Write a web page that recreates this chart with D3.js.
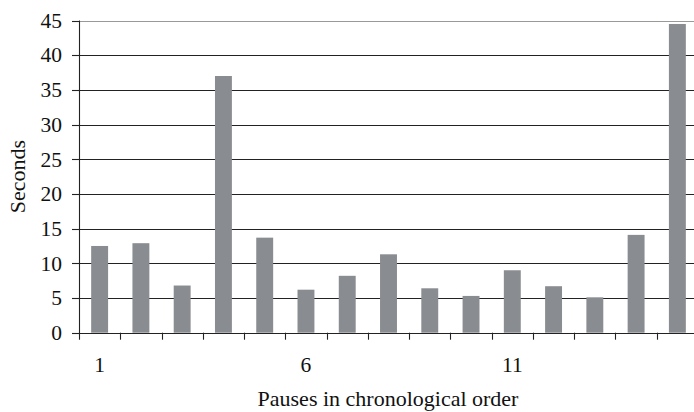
<!DOCTYPE html>
<html>
<head>
<meta charset="utf-8">
<script src="https://cdn.jsdelivr.net/npm/d3@7"></script>
<style>
  body { margin: 0; background: #fff; }
  text { font-family: "Liberation Serif", "Times New Roman", serif; fill: #111; }
</style>
</head>
<body>
<svg id="chart" width="694" height="412"></svg>
<script>
// Pause lengths, one per pause (seconds)
const pauses = [1, 2, 3, 4, 5, 6, 7, 8, 9, 10, 11, 12, 13, 14, 15];
const seconds = [12.5, 12.9, 6.8, 37.0, 13.7, 6.2, 8.2, 11.3, 6.4, 5.3, 9.0, 6.7, 5.1, 14.1, 44.5];
const yTicks = [0, 5, 10, 15, 20, 25, 30, 35, 40, 45];
const xLabels = [1, 6, 11];

const svg = d3.select("#chart");
const m = {left: 79, top: 20.5, right: 698, bottom: 332.7};

const x = d3.scaleBand().domain(pauses).range([m.left, m.right]).paddingInner(0.59).paddingOuter(0.295);
const y = d3.scaleLinear().domain([0, 45]).range([m.bottom, m.top]);

// gridlines
svg.append("g").selectAll("line")
  .data(yTicks.filter(d => d > 0)).enter()
  .append("line")
    .attr("x1", m.left).attr("x2", 694)
    .attr("y1", d => Math.round(y(d)) + 0.5)
    .attr("y2", d => Math.round(y(d)) + 0.5)
    .attr("stroke", d => d == 45 ? "#999" : "#222")
    .attr("stroke-width", 1.1);

// bars
svg.append("g").selectAll("rect")
  .data(seconds).enter()
  .append("rect")
    .attr("x", (d, i) => x(pauses[i]))
    .attr("width", x.bandwidth())
    .attr("y", d => y(d))
    .attr("height", d => y(0) - y(d))
    .attr("fill", "#898c90");

// y axis
const yAxis = svg.append("g");
yAxis.append("line")
  .attr("x1", m.left + 0.5).attr("x2", m.left + 0.5)
  .attr("y1", y(45)).attr("y2", y(0) + 7)
  .attr("stroke", "#222").attr("stroke-width", 1.1);
yAxis.selectAll(".tick")
  .data(yTicks).enter()
  .append("line")
    .attr("x1", m.left - 7).attr("x2", m.left)
    .attr("y1", d => Math.round(y(d)) + 0.5)
    .attr("y2", d => Math.round(y(d)) + 0.5)
    .attr("stroke", "#222").attr("stroke-width", 1.1);
yAxis.selectAll("text")
  .data(yTicks).enter()
  .append("text")
    .attr("x", m.left - 17)
    .attr("y", d => y(d))
    .attr("dy", "0.34em")
    .attr("text-anchor", "end")
    .style("font-size", "21.5px")
    .text(d => d);

// x axis
const xAxis = svg.append("g");
xAxis.append("line")
  .attr("x1", m.left).attr("x2", 694)
  .attr("y1", Math.round(y(0)) + 0.5).attr("y2", Math.round(y(0)) + 0.5)
  .attr("stroke", "#222").attr("stroke-width", 1.1);
xAxis.selectAll(".tick")
  .data(pauses.slice(1)).enter()
  .append("line")
    .attr("x1", d => Math.round(x(d) - x.step() * x.paddingInner() / 2) + 0.5)
    .attr("x2", d => Math.round(x(d) - x.step() * x.paddingInner() / 2) + 0.5)
    .attr("y1", y(0)).attr("y2", y(0) + 7)
    .attr("stroke", "#222").attr("stroke-width", 1.1);
xAxis.selectAll("text")
  .data(xLabels).enter()
  .append("text")
    .attr("x", d => x(d) + x.bandwidth() / 2)
    .attr("y", 372)
    .attr("text-anchor", "middle")
    .style("font-size", "21.5px")
    .text(d => d);

// axis titles
svg.append("text")
  .attr("x", 388)
  .attr("y", 406)
  .attr("text-anchor", "middle")
  .style("font-size", "22px")
  .text("Pauses in chronological order");
svg.append("text")
  .attr("transform", "translate(25," + (m.top + m.bottom) / 2 + ") rotate(-90)")
  .attr("text-anchor", "middle")
  .style("font-size", "22px")
  .text("Seconds");
</script>
</body>
</html>
